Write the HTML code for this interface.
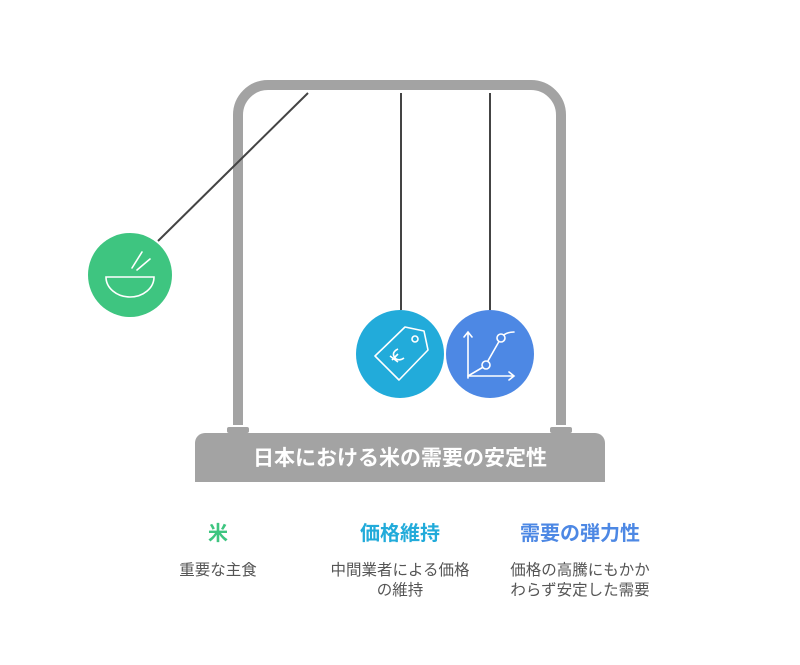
<!DOCTYPE html>
<html><head><meta charset="utf-8"><style>
body{margin:0;background:#fff;width:800px;height:665px;overflow:hidden;position:relative;font-family:"Liberation Sans","Noto Sans CJK JP",sans-serif}
.t{position:absolute;text-align:center;font-weight:bold;font-size:20px;line-height:24px}
.d{position:absolute;text-align:center;font-size:15.5px;color:#555;line-height:20px}
</style></head><body>
<svg width="800" height="665" style="position:absolute;left:0;top:0">
<path d="M238,425 V115 A30,30 0 0 1 268,85 H531 A30,30 0 0 1 561,115 V425" fill="none" stroke="#a3a3a3" stroke-width="10"/>
<rect x="227" y="427" width="22" height="6" rx="2" fill="#a3a3a3"/>
<rect x="550" y="427" width="22" height="6" rx="2" fill="#a3a3a3"/>
<path d="M205,433 H595 A10,10 0 0 1 605,443 V482 H195 V443 A10,10 0 0 1 205,433Z" fill="#a3a3a3"/>
<text x="400" y="465" text-anchor="middle" fill="#fff" font-weight="bold" font-size="21" font-family="Liberation Sans,Noto Sans CJK JP,sans-serif">日本における米の需要の安定性</text>
<line x1="308" y1="93" x2="158" y2="241" stroke="#444" stroke-width="2"/>
<line x1="401" y1="93" x2="401" y2="310" stroke="#444" stroke-width="2"/>
<line x1="490" y1="93" x2="490" y2="310" stroke="#444" stroke-width="2"/>
<circle cx="130" cy="275" r="42" fill="#3ec580"/>
<g fill="none" stroke="#fff" stroke-width="1.6" stroke-linecap="round">
<path d="M106,277 H154 A24,20 0 0 1 106,277Z"/>
<line x1="132" y1="268" x2="142" y2="252"/><line x1="137" y1="270" x2="150" y2="259"/>
</g>
<circle cx="400" cy="354" r="44" fill="#22abda"/>
<g fill="none" stroke="#fff" stroke-width="1.6" stroke-linejoin="round">
<path d="M375,356 L405,327 L424,331 L428,350 L399,380 Z"/>
<circle cx="415" cy="339" r="3"/>
<path d="M398,349 q-8,4 -2,10 q4,2 8,-1 M392,360 l6,-6 M390,356 l8,6"/>
</g>
<circle cx="490" cy="354" r="44" fill="#4d88e4"/>
<g fill="none" stroke="#fff" stroke-width="1.6" stroke-linecap="round">
<path d="M468,378 V332 M464,337 L468,332 L472,337 M468,376 H514 M509,372 L514,376 L509,380"/>
<path d="M468,376 L485,366 L501,338 Q505,332 514,332"/>
<circle cx="486" cy="365" r="4" fill="#4d88e4"/><circle cx="501" cy="338" r="4" fill="#4d88e4"/>
</g>
</svg>
<div class="t" style="left:168px;width:100px;top:522px;color:#3ec580">米</div>
<div class="t" style="left:310px;width:180px;top:522px;color:#22abda">価格維持</div>
<div class="t" style="left:490px;width:180px;top:522px;color:#4d88e4">需要の弾力性</div>
<div class="d" style="left:158px;width:120px;top:561px">重要な主食</div>
<div class="d" style="left:310px;width:180px;top:561px">中間業者による価格<br>の維持</div>
<div class="d" style="left:490px;width:180px;top:561px">価格の高騰にもかか<br>わらず安定した需要</div>
</body></html>
